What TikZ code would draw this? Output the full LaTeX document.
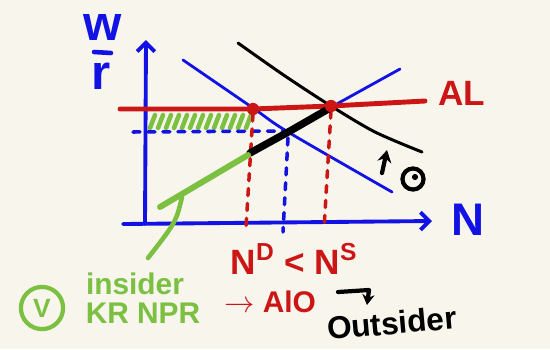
\documentclass[tikz,border=0pt]{standalone}
\usepackage{fontspec}
\setmainfont{Liberation Sans}
\usetikzlibrary{arrows.meta}
\definecolor{bg}{RGB}{247,245,236}
\definecolor{pblue}{RGB}{18,18,228}
\definecolor{pred}{RGB}{204,22,22}
\definecolor{pgreen}{RGB}{124,192,66}
\begin{document}
\begin{tikzpicture}[x=0.02cm,y=-0.02cm,line cap=round,line join=round,
  axis/.style={pblue,line width=2.2pt,-{Straight Barb[length=5pt,width=10pt]}},
  thinblue/.style={pblue,line width=1.6pt},
  thinblack/.style={black,line width=1.7pt},
  redline/.style={pred,line width=2.8pt},
  reddash/.style={pred,line width=2pt,dash pattern=on 4pt off 4.5pt},
  bluedash/.style={pblue,line width=2pt,dash pattern=on 4pt off 4.5pt},
  greenline/.style={pgreen,line width=3.4pt},
  hatch/.style={pgreen,line width=2.6pt},
  hand/.style={font=\bfseries\fontsize{#1}{#1}\selectfont,inner sep=0pt},
  dot/.style={circle,fill=pred,inner sep=0pt,minimum size=7pt}]
\fill[bg] (0,0) rectangle (550,349);
\useasboundingbox (0,0) rectangle (550,349);
% axes
\coordinate (yb) at (145,224);
\coordinate (yt) at (146,40);
\coordinate (xl) at (123,224);
\coordinate (xr) at (432,221);
\draw[axis] (yb) -- (yt);
\draw[axis] (xl) -- (xr);
\node[hand=28,pblue] (lw) at (103,28) {w};
\draw[pblue,line width=2.6pt] (94,52) -- (111,53);
\node[hand=28,pblue] (lr) at (101,76) {r};
\node[hand=26,pblue] (lN) at (468,220) {N};
% green hatched area
\foreach \x in {150,158,...,246} {\draw[hatch] (\x,128) -- (\x+5,115);}
% blue dashed guides
\coordinate (bh1) at (133,132);
\coordinate (bh2) at (284,131);
\draw[bluedash] (bh1) -- (bh2);
\coordinate (bv1) at (288,138);
\coordinate (bv2) at (283,232);
\draw[bluedash] (bv1) -- (bv2);
% curves
\draw[thinblue] plot[smooth] coordinates {(183,60) (253,108) (288,132) (392,192)};
\coordinate (s1) at (250,152);
\coordinate (s2) at (400,69);
\draw[thinblue] (s1) -- (s2);
\draw[thinblack] plot[smooth] coordinates {(238,43) (285,76) (331,106) (375,132) (422,152)};
% AL line
\coordinate (al0) at (120,109);
\coordinate (al1) at (425,101);
\draw[redline] (al0) -- (253,109) -- (331,106) -- (al1);
\node[hand=20,pred] (lAL) at (462,93) {AL};
% red dashed verticals
\coordinate (r1t) at (253,114);
\coordinate (r1b) at (246,227);
\coordinate (r2t) at (331,111);
\coordinate (r2b) at (324,229);
\draw[reddash] (r1t) -- (r1b);
\draw[reddash] (r2t) -- (r2b);
% thick black segment
\coordinate (k1) at (250,153);
\coordinate (k2) at (330,108);
\draw[black,line width=4.2pt] (k1) -- (290,131) -- (k2);
% green pointer
\coordinate (g1) at (160,207);
\coordinate (g2) at (248,155);
\draw[greenline] (g1) -- (g2);
\coordinate (g3) at (182,197);
\coordinate (g4) at (148,258);
\draw[pgreen,line width=2.6pt] (g3) .. controls (176,222) .. (g4);
% red dots
\node[dot] (d1) at (253,109) {};
\node[dot] (d2) at (331,106) {};
% black arrow and circled mark
\coordinate (ua) at (382,173);
\coordinate (ub) at (387,150);
\draw[black,line width=2.4pt,-{Stealth[length=7pt,width=8pt]}] (ua) -- (ub);
\node[draw,circle,line width=2.4pt,minimum size=12pt,inner sep=0pt] (circ) at (413,179) {};
\node[circle,fill=black,inner sep=0pt,minimum size=3.5pt] (circdot) at (415,177) {};
% red labels
\node[hand=20,pred] (lNN) at (294,259) {N\textsuperscript{D} < N\textsuperscript{S}};
\node[hand=17,pred] (lALO) at (270,302) {$\rightarrow$ AlO};
% black hook arrow and outsider
\coordinate (h1) at (338,292);
\coordinate (h2) at (369,290);
\coordinate (h3) at (367,305);
\draw[black,line width=2.4pt,-{Stealth[length=6pt,width=7pt]}] (h1) -- (h2) -- (h3);
\node[hand=18,rotate=5] (lout) at (392,323) {Outsider};
% green labels
\node[hand=17,pgreen] (lins) at (135,284) {insider};
\node[draw=pgreen,circle,line width=2.4pt,minimum size=24pt,inner sep=0pt,text=pgreen,font=\bfseries\fontsize{15}{15}\selectfont] (lV) at (42,308) {V};
\node[hand=17,pgreen] (lkr) at (143,313) {KR NPR};
\end{tikzpicture}
\end{document}
